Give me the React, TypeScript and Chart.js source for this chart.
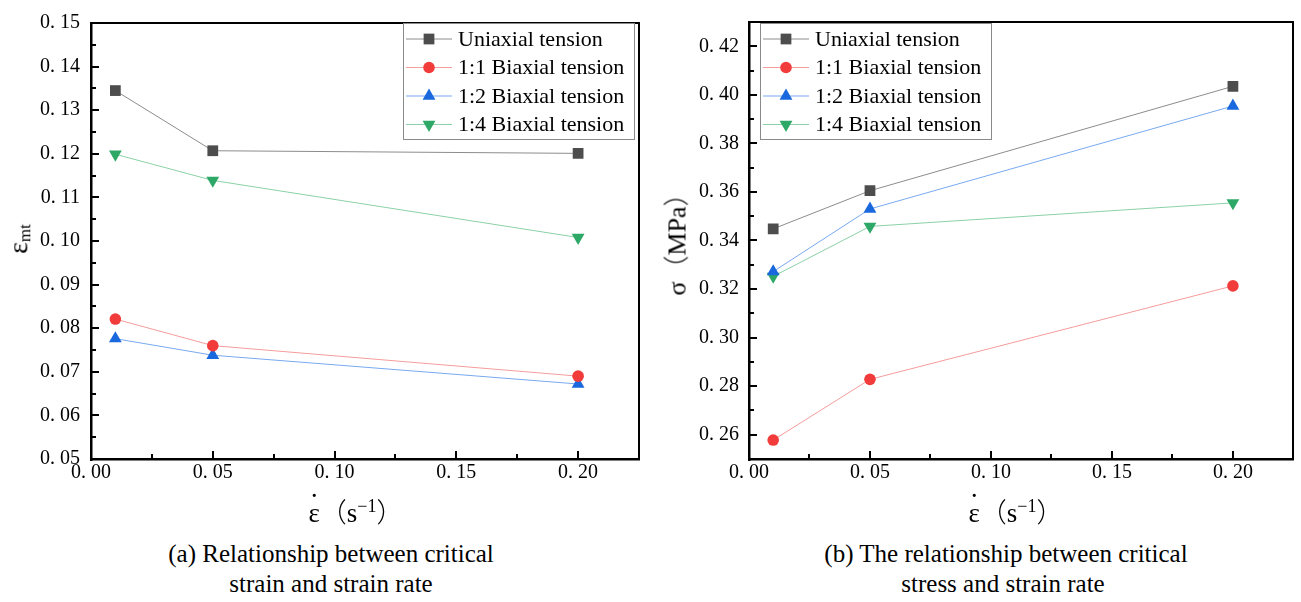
import React, { useEffect, useRef } from "react";
import { Chart, registerables } from "chart.js";

Chart.register(...registerables);

const SERIF = "'Liberation Serif', 'Times New Roman', serif";
Chart.defaults.font.family = SERIF;
Chart.defaults.color = "#000";

// ---------- data ----------
const strainRates = [0.01, 0.05, 0.2];
const seriesNames = [
  "Uniaxial tension",
  "1:1 Biaxial tension",
  "1:2 Biaxial tension",
  "1:4 Biaxial tension",
];

const strainUniaxial = [0.1345, 0.1207, 0.1201];
const strainBiaxial11 = [0.0821, 0.076, 0.069];
const strainBiaxial12 = [0.0776, 0.0738, 0.0672];
const strainBiaxial14 = [0.1199, 0.1139, 0.1008];

const stressUniaxial = [0.3448, 0.3605, 0.4035];
const stressBiaxial11 = [0.2578, 0.2828, 0.3213];
const stressBiaxial12 = [0.3272, 0.353, 0.3954];
const stressBiaxial14 = [0.3252, 0.3458, 0.3555];

const xTicks = [0, 0.05, 0.1, 0.15, 0.2];
const xTickLabels = ["0. 00", "0. 05", "0. 10", "0. 15", "0. 20"];
const xMinorTicks = [0.025, 0.075, 0.125, 0.175];

const strainTicks = [0.05, 0.06, 0.07, 0.08, 0.09, 0.1, 0.11, 0.12, 0.13, 0.14, 0.15];
const strainTickLabels = ["0. 05", "0. 06", "0. 07", "0. 08", "0. 09", "0. 10", "0. 11", "0. 12", "0. 13", "0. 14", "0. 15"];
const strainMinorTicks = [0.055, 0.065, 0.075, 0.085, 0.095, 0.105, 0.115, 0.125, 0.135, 0.145];

const stressTicks = [0.26, 0.28, 0.3, 0.32, 0.34, 0.36, 0.38, 0.4, 0.42];
const stressTickLabels = ["0. 26", "0. 28", "0. 30", "0. 32", "0. 34", "0. 36", "0. 38", "0. 40", "0. 42"];
const stressMinorTicks = [0.27, 0.29, 0.31, 0.33, 0.35, 0.37, 0.39, 0.41];

// ---------- styles ----------
const markerColors = ["#4d4d4d", "#f23c3c", "#1a68de", "#2ea866"];
const lineColors = ["#8c8c8c", "#f59c9c", "#78a9ef", "#8bd1a7"];
const pointStyles = ["rect", "circle", "triangle", "triangle"];
const pointRotations = [0, 0, 0, 180];
const pointRadii = [7.6, 5.8, 7.4, 7.4];

function drawMarker(ctx: CanvasRenderingContext2D, style: string, x: number, y: number, r: number, rot: number, color: string) {
  ctx.save();
  ctx.fillStyle = color;
  ctx.beginPath();
  if (style === "rect") {
    const s = Math.SQRT1_2 * r;
    ctx.rect(x - s, y - s, 2 * s, 2 * s);
  } else if (style === "circle") {
    ctx.arc(x, y, r, 0, Math.PI * 2);
  } else {
    let a = (rot * Math.PI) / 180;
    ctx.moveTo(x + Math.sin(a) * r, y - Math.cos(a) * r);
    a += (2 * Math.PI) / 3;
    ctx.lineTo(x + Math.sin(a) * r, y - Math.cos(a) * r);
    a += (2 * Math.PI) / 3;
    ctx.lineTo(x + Math.sin(a) * r, y - Math.cos(a) * r);
    ctx.closePath();
  }
  ctx.fill();
  ctx.restore();
}

function makeFramePlugin(xMajor: number[], xMinor: number[], yMajor: number[], yMinor: number[], b: { x: number; y: number; w: number; h: number }) {
  return {
    id: "frameTicks",
    afterDraw(chart: any) {
      const ctx: CanvasRenderingContext2D = chart.ctx;
      const a = chart.chartArea;
      const xs = chart.scales.x;
      const ys = chart.scales.y;
      ctx.save();
      ctx.setLineDash([]);
      ctx.globalAlpha = 1;
      ctx.fillStyle = "#000";
      // tick marks as filled rectangles (inward)
      const tick = (vals: number[], len: number, horiz: boolean) => {
        for (const v of vals) {
          if (horiz) {
            const px = Math.round(xs.getPixelForValue(v));
            ctx.fillRect(px - 1, a.bottom - len, 2, len);
          } else {
            const py = Math.round(ys.getPixelForValue(v));
            ctx.fillRect(a.left, py - 1, len, 2);
          }
        }
      };
      tick(xMajor, 8, true);
      tick(xMinor, 5, true);
      tick(yMajor, 8, false);
      tick(yMinor, 5, false);

      // frame as filled rectangles
      const L = Math.round(a.left), R = Math.round(a.right), T = Math.round(a.top), B = Math.round(a.bottom);
      ctx.fillRect(L, T - 1, R - L + 1, 2); // top
      ctx.fillRect(R - 1, T - 1, 2, B - T + 2); // right
      ctx.fillRect(L - 1, T - 1, 2.5, B - T + 3); // left
      ctx.fillRect(L - 1, B - 1, R - L + 2, 2.5); // bottom

      // legend
      ctx.fillStyle = "#fff";
      ctx.fillRect(b.x, b.y, b.w, b.h);
      ctx.strokeStyle = "#8a8a8a";
      ctx.lineWidth = 1;
      ctx.strokeRect(b.x + 0.5, b.y + 0.5, b.w, b.h);
      ctx.font = `22px ${SERIF}`;
      ctx.textBaseline = "middle";
      ctx.textAlign = "left";
      seriesNames.forEach((name, i) => {
        const cy = b.y + 16 + i * 28.5;
        ctx.strokeStyle = lineColors[i];
        ctx.lineWidth = 1;
        ctx.beginPath();
        ctx.moveTo(b.x + 3, cy);
        ctx.lineTo(b.x + 49, cy);
        ctx.stroke();
        drawMarker(ctx, pointStyles[i], b.x + 26, cy, pointRadii[i], pointRotations[i], markerColors[i]);
        ctx.fillStyle = "#000";
        ctx.fillText(name, b.x + 55, cy + 1);
      });
      ctx.restore();
    },
  };
}

function makeConfig(series: number[][], yMin: number, yMax: number, yTicks: number[], yLabels: string[], yMinor: number[], yWidth: number, yPad: number, padRight: number, legendBox: any): any {
  return {
    type: "line",
    data: {
      datasets: series.map((vals, i) => ({
        label: seriesNames[i],
        data: strainRates.map((x, j) => ({ x, y: vals[j] })),
        borderColor: lineColors[i],
        borderWidth: 1,
        backgroundColor: markerColors[i],
        pointBackgroundColor: markerColors[i],
        pointBorderColor: markerColors[i],
        pointBorderWidth: 0,
        pointStyle: pointStyles[i],
        pointRotation: pointRotations[i],
        pointRadius: pointRadii[i],
        fill: false,
        tension: 0,
      })),
    },
    options: {
      animation: false,
      responsive: false,
      maintainAspectRatio: false,
      layout: { padding: { top: 17, right: padRight, left: 0, bottom: 0 } },
      plugins: {
        legend: { display: false },
        tooltip: { enabled: false },
      },
      scales: {
        x: {
          type: "linear",
          min: 0,
          max: 0.225,
          grid: { display: false, drawTicks: false },
          border: { display: false },
          afterBuildTicks: (s: any) => {
            s.ticks = xTicks.map((v) => ({ value: v }));
          },
          afterFit: (s: any) => {
            s.height = 41;
          },
          ticks: {
            autoSkip: false,
            maxRotation: 0,
            padding: 2,
            color: "#000",
            font: { family: SERIF, size: 20 },
            callback: (v: number) => xTickLabels[xTicks.findIndex((t) => Math.abs(t - v) < 1e-9)],
          },
        },
        y: {
          type: "linear",
          min: yMin,
          max: yMax,
          grid: { display: false, drawTicks: false },
          border: { display: false },
          afterBuildTicks: (s: any) => {
            s.ticks = yTicks.map((v) => ({ value: v }));
          },
          afterFit: (s: any) => {
            s.width = yWidth;
          },
          ticks: {
            autoSkip: false,
            padding: yPad,
            color: "#000",
            font: { family: SERIF, size: 20 },
            callback: (v: number) => yLabels[yTicks.findIndex((t) => Math.abs(t - v) < 1e-9)],
          },
        },
      },
    },
    plugins: [makeFramePlugin(xTicks, xMinorTicks, yTicks, yMinor, legendBox)],
  };
}

function ChartCanvas({ config, left, width, height }: { config: any; left: number; width: number; height: number }) {
  const ref = useRef<HTMLCanvasElement | null>(null);
  useEffect(() => {
    if (!ref.current) return;
    const c = new Chart(ref.current, config);
    return () => c.destroy();
  }, []);
  return (
    <canvas
      ref={ref}
      width={width}
      height={height}
      style={{ position: "absolute", left, top: 0, width, height }}
    />
  );
}

const centered = (cx: number, cy: number, extra: any = {}): any => ({
  position: "absolute",
  left: cx,
  top: cy,
  transform: "translate(-50%, -50%)",
  whiteSpace: "nowrap",
  lineHeight: 1,
  fontFamily: SERIF,
  color: "#000",
  ...extra,
});

const CJK = { fontFamily: "'Noto Sans CJK SC', serif", fontWeight: 300 };

function RateLabel() {
  return (
    <span style={{ fontSize: 27 }}>
      <span style={{ position: "relative", display: "inline-block" }}>
        ε
        <span style={{ position: "absolute", left: "50%", top: "-0.62em", transform: "translateX(-50%)" }}>·</span>
      </span>
      <span style={CJK}>（</span>
      s<sup style={{ fontSize: 18, verticalAlign: "0.55em" }}>−1</sup>
      <span style={CJK}>）</span>
    </span>
  );
}

export default function App() {
  const leftConfig = makeConfig(
    [strainUniaxial, strainBiaxial11, strainBiaxial12, strainBiaxial14],
    0.05, 0.15, strainTicks, strainTickLabels, strainMinorTicks,
    91, 11, 11,
    { x: 403, y: 23, w: 231, h: 116 }
  );
  const rightConfig = makeConfig(
    [stressUniaxial, stressBiaxial11, stressBiaxial12, stressBiaxial14],
    0.25, 0.43, stressTicks, stressTickLabels, stressMinorTicks,
    99, 10, 4,
    { x: 110, y: 23, w: 231, h: 116 }
  );
  return (
    <div style={{ position: "absolute", left: 0, top: 0, width: 1301, height: 602, background: "#fff", overflow: "hidden" }}>
      <ChartCanvas config={leftConfig} left={0} width={650} height={500} />
      <ChartCanvas config={rightConfig} left={650} width={651} height={500} />

      <div style={centered(19, 239, { transform: "translate(-50%, -50%) rotate(-90deg)", fontSize: 28 })}>
        ε<sub style={{ fontSize: 17, verticalAlign: "-0.2em" }}>mt</sub>
      </div>
      <div style={centered(676, 238, { transform: "translate(-50%, -50%) rotate(-90deg)", fontSize: 26 })}>
        σ<span style={CJK}>（</span>MPa<span style={CJK}>）</span>
      </div>

      <div style={centered(356, 512)}><RateLabel /></div>
      <div style={centered(1016, 512)}><RateLabel /></div>

      <div style={centered(331, 553, { fontSize: 25 })}>(a) Relationship between critical</div>
      <div style={centered(331, 583, { fontSize: 25 })}>strain and strain rate</div>
      <div style={centered(1006, 553, { fontSize: 25 })}>(b) The relationship between critical</div>
      <div style={centered(1003, 583, { fontSize: 25 })}>stress and strain rate</div>
    </div>
  );
}
